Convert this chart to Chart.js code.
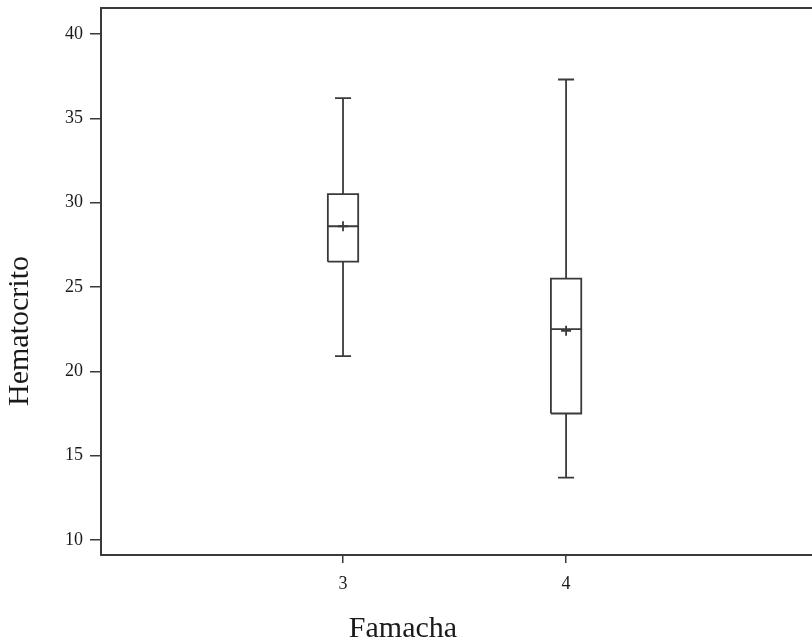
<!DOCTYPE html>
<html>
<head>
<meta charset="utf-8">
<title>Hematocrito por Famacha</title>
<script src="https://cdn.jsdelivr.net/npm/chart.js@4.4.1/dist/chart.umd.min.js"></script>
<style>
html, body { margin: 0; padding: 0; background: #fff; overflow: hidden; }
#contenedor { width: 812px; height: 644px; position: relative; }
</style>
</head>
<body>
<div id="contenedor"><canvas id="graficoCajas"></canvas></div>
<script>
const famacha = [3, 4];
const minimos = [20.9, 13.7];
const cuartil1 = [26.5, 17.5];
const medianas = [28.6, 22.5];
const medias = [28.6, 22.4];
const cuartil3 = [30.5, 25.5];
const maximos = [36.2, 37.3];
const ticksY = [10, 15, 20, 25, 30, 35, 40];
const ticksX = [3, 4];

// Estilo
const colorLinea = '#3a3a3a';
const fuente = '"Liberation Serif", "Times New Roman", serif';
const medioAnchoCaja = 0.068;   // en unidades del eje x
const medioAnchoBigote = 0.036;

// Cada trazo de la caja es un dataset de tipo scatter con línea
const datasets = [];
const trazo = (puntos) => datasets.push({
    data: puntos,
    showLine: true,
    borderColor: colorLinea,
    borderWidth: 1.8,
    pointRadius: 0,
    fill: false
});

famacha.forEach((f, i) => {
    // bigotes
    trazo([{ x: f, y: minimos[i] }, { x: f, y: cuartil1[i] }]);
    trazo([{ x: f, y: cuartil3[i] }, { x: f, y: maximos[i] }]);
    // remates de los bigotes
    trazo([{ x: f - medioAnchoBigote, y: minimos[i] }, { x: f + medioAnchoBigote, y: minimos[i] }]);
    trazo([{ x: f - medioAnchoBigote, y: maximos[i] }, { x: f + medioAnchoBigote, y: maximos[i] }]);
    // caja
    trazo([
        { x: f - medioAnchoCaja, y: cuartil1[i] },
        { x: f + medioAnchoCaja, y: cuartil1[i] },
        { x: f + medioAnchoCaja, y: cuartil3[i] },
        { x: f - medioAnchoCaja, y: cuartil3[i] },
        { x: f - medioAnchoCaja, y: cuartil1[i] }
    ]);
    // mediana
    trazo([{ x: f - medioAnchoCaja, y: medianas[i] }, { x: f + medioAnchoCaja, y: medianas[i] }]);
});

// media como cruz
datasets.push({
    data: famacha.map((f, i) => ({ x: f, y: medias[i] })),
    showLine: false,
    pointStyle: 'cross',
    pointRadius: 5,
    borderColor: colorLinea,
    borderWidth: 1.8
});

// Marco superior y prolongación del eje x hasta el borde, títulos de ejes
const marcoYTitulos = {
    id: 'marcoYTitulos',
    afterDraw(chart) {
        const { ctx, chartArea, width } = chart;
        ctx.save();
        ctx.strokeStyle = colorLinea;
        ctx.lineWidth = 2;
        ctx.beginPath();
        ctx.moveTo(chartArea.left, chartArea.top);
        ctx.lineTo(width, chartArea.top);
        ctx.moveTo(chartArea.right - 1, chartArea.bottom);
        ctx.lineTo(width, chartArea.bottom);
        ctx.stroke();

        ctx.fillStyle = '#1a1a1a';
        ctx.font = '30px ' + fuente;
        ctx.textAlign = 'center';
        ctx.textBaseline = 'alphabetic';
        ctx.fillText('Famacha', 403, 637);
        ctx.translate(28, 331);
        ctx.rotate(-Math.PI / 2);
        ctx.fillText('Hematocrito', 0, 0);
        ctx.restore();
    }
};

const ctxCajas = document.getElementById('graficoCajas').getContext('2d');
new Chart(ctxCajas, {
    type: 'scatter',
    data: { datasets },
    options: {
        responsive: true,
        maintainAspectRatio: false,
        animation: false,
        layout: { padding: { top: 8, right: 0, left: 0, bottom: 0 } },
        plugins: {
            legend: { display: false },
            tooltip: { enabled: false }
        },
        scales: {
            x: {
                type: 'linear',
                min: 1.915,
                max: 5.072,
                afterBuildTicks: (s) => { s.ticks = ticksX.map(v => ({ value: v })); },
                afterFit: (s) => { s.height = 89; s.paddingLeft = 0; s.paddingRight = 0; },
                grid: { drawOnChartArea: false, drawTicks: true, tickLength: 8, color: colorLinea, lineWidth: 1.5 },
                border: { display: true, color: colorLinea, width: 2 },
                ticks: { color: '#1a1a1a', padding: 10, font: { family: fuente, size: 18 } }
            },
            y: {
                min: 9.11,
                max: 41.54,
                afterBuildTicks: (s) => { s.ticks = ticksY.map(v => ({ value: v })); },
                afterFit: (s) => { s.width = 101; s.paddingTop = 0; s.paddingBottom = 0; },
                grid: { drawOnChartArea: false, drawTicks: true, tickLength: 11, color: colorLinea, lineWidth: 1.5 },
                border: { display: true, color: colorLinea, width: 2 },
                ticks: { color: '#1a1a1a', padding: 7, font: { family: fuente, size: 18 } }
            }
        }
    },
    plugins: [marcoYTitulos]
});
</script>
</body>
</html>
